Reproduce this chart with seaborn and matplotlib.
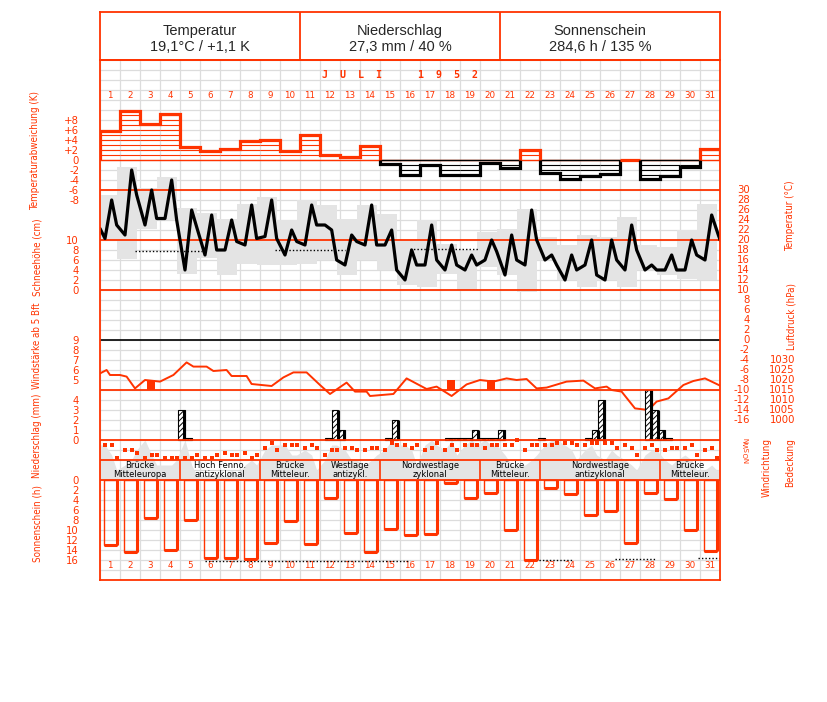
import numpy as np
import matplotlib
matplotlib.use("Agg")
import matplotlib.pyplot as plt
import seaborn as sns

sns.set_theme(style="white")
plt.rcParams["font.family"] = ["DejaVu Sans"]
plt.rcParams["hatch.linewidth"] = 0.7
plt.rcParams["hatch.color"] = "black"

ROT = "#ff3300"
GRAU = "#e4e4e4"
GITTER = "#dcdcdc"

# ---------------- Daten Juli 1952 ----------------
tage = list(range(1, 32))
termin_stunden = [6, 14, 20]

kopf_titel = ["Temperatur", "Niederschlag", "Sonnenschein"]
kopf_werte = ["19,1°C / +1,1 K", "27,3 mm / 40 %", "284,6 h / 135 %"]

# Abweichung des Tagesmittels (K)
abweichung = [5.9, 9.8, 7.3, 9.3, 2.7, 1.8, 2.3, 3.8, 4.0, 1.8, 5.0, 1.1, 0.7, 2.9, -0.7, -3.0,
              -0.9, -3.0, -3.0, -0.5, -1.5, 2.1, -2.5, -3.8, -3.1, -2.7, 0.1, -3.8, -3.1, -1.3, 2.2]

# Temperatur (°C) zu den Terminen
temp_fruh = [20.3, 21, 23, 24.3, 14, 17, 18, 19, 20.7, 17, 19, 23, 15, 19, 19, 12,
             15, 14, 14, 16, 13, 15, 16, 12, 15, 12, 14, 14, 14, 14, 16]
temp_mittag = [28, 34, 30, 32, 26, 25, 24, 27, 28, 22, 27, 22, 21, 27, 22, 18,
               23, 19, 17, 20, 21, 26, 17, 17, 20, 20, 23, 15, 17, 20, 25]
temp_abend = [23, 29, 24.3, 24, 22.6, 18, 19.7, 20.3, 20.3, 19.7, 23, 16, 19.7, 19, 14, 15,
              16, 15, 15, 17.7, 16, 20, 15, 14, 13, 16, 18, 14, 14, 17, 22]
temp_anfang = 22.3
temp_ende = 20.0

# Tagesminimum / -maximum (graue Felder)
temp_min = [20, 16.3, 22.3, 24, 13.3, 16.5, 13, 15.3, 15, 15, 15.3, 16, 13, 16, 14, 11,
            10.7, 13.3, 10, 14.7, 13, 9.7, 16, 12, 10.7, 12, 10.7, 14, 13, 12.3, 12]
temp_max = [29, 34.7, 30.5, 32.7, 26.5, 25.5, 24.3, 27.3, 28.7, 24, 28, 27, 24.3, 27, 25.3, 20,
            24, 19.3, 18, 21.7, 22.3, 26.3, 20.7, 19, 21, 20.7, 24.7, 19, 18.7, 22, 27.3]

# gepunktete Mittelwerte (Zeit in Tagen ab 1. Juli 0 Uhr)
temp_punkt_von = [1.75, 8.75, 15.5]
temp_punkt_bis = [5.1, 12.25, 18.9]
temp_punkt_wert = [17.8, 18.0, 18.3]

# Luftdruck (hPa)
druck_zeit = [0.0, 0.33, 0.5, 1.0, 1.33, 1.75, 2.25, 3.0, 3.67, 4.33, 4.67, 5.33, 5.67, 6.33,
              6.58, 7.33, 7.58, 8.58, 9.17, 9.67, 10.33, 11.0, 11.5, 12.33, 12.75, 13.33, 13.5,
              14.67, 15.33, 16.33, 16.83, 17.58, 18.33, 19.0, 19.67, 20.33, 20.83, 21.33, 21.83,
              22.33, 23.33, 24.17, 24.75, 25.33, 25.58, 26.08, 26.75, 27.42, 27.83, 28.42,
              29.17, 29.67, 30.25, 31.0]
druck_hpa = [1023.3, 1025, 1022.5, 1022.5, 1021.7, 1015.8, 1020, 1019.2, 1022.5, 1028.8, 1026.7,
             1026.7, 1024.5, 1025, 1022, 1022, 1018, 1017, 1021.3, 1023.8, 1023.8, 1017.5, 1013,
             1018.7, 1014.2, 1014.2, 1012, 1013, 1020.8, 1015.5, 1016.7, 1012, 1017.8, 1020,
             1019.2, 1020.8, 1020, 1020.5, 1015.8, 1016.2, 1019.2, 1019.7, 1015.8, 1016.7, 1015,
             1014.2, 1005.8, 1005, 1009.2, 1010.8, 1017.5, 1019.5, 1020.8, 1017.2]

# Windstärke ab 5 Bft
wind_tage = [3, 18, 20]
wind_bft = [5, 5, 5]

# Niederschlag (mm) in den drei Terminabschnitten
niederschlag = [[0, 0, 0] for _ in tage]
niederschlag[3] = [0, 0, 3.0]
niederschlag[4] = [0.2, 0, 0]
niederschlag[11] = [0.2, 3.0, 1.0]
niederschlag[14] = [0.2, 2.0, 0]
niederschlag[17] = [0.2, 0.2, 0.2]
niederschlag[18] = [0.2, 1.0, 0.2]
niederschlag[19] = [0.2, 0.2, 1.0]
niederschlag[21] = [0, 0, 0.2]
niederschlag[24] = [0.2, 1.0, 4.0]
niederschlag[27] = [5.0, 3.0, 1.0]
niederschlag[28] = [0.2, 0, 0]

# Windrichtung (Grad) zu den Terminen
windrichtung = [[270, 270, 45], [180, 180, 135], [45, 90, 90], [45, 45, 45], [45, 45, 90],
                [45, 45, 90], [135, 90, 90], [135, 45, 90], [225, 315, 180], [270, 270, 270],
                [225, 270, 225], [90, 180, 180], [225, 225, 180], [180, 225, 225], [180, 315, 270],
                [270, 225, 270], [180, 225, 315], [180, 270, 180], [270, 270, 270], [225, 270, 270],
                [270, 270, 360], [180, 270, 270], [270, 270, 315], [315, 315, 270], [270, 315, 315],
                [315, 315, 225], [270, 225, 90], [225, 270, 180], [180, 225, 225], [225, 270, 90],
                [180, 225, 45]]

# Bedeckung (Achtel) zu den Terminen
bedeckung = [[7, 5, 2], [3, 4, 6], [8, 5, 3], [3, 3, 4], [8, 3, 1], [1, 1, 1], [1, 2, 1],
             [3, 4, 3], [6, 7, 7], [7, 5, 5], [6, 5, 2], [4, 7, 7], [6, 4, 4], [3, 4, 5],
             [6, 8, 7], [7, 6, 3], [7, 8, 7], [6, 8, 5], [7, 8, 7], [8, 7, 7], [5, 3, 3],
             [3, 4, 5], [7, 8, 8], [7, 6, 4], [6, 7, 5], [4, 6, 5], [4, 3, 2], [5, 6, 6],
             [4, 3, 4], [5, 4, 2], [2, 3, 2]]

# Großwetterlagen
lagen = ["Brücke\nMitteleuropa", "Hoch Fenno.\nantizyklonal", "Brücke\nMitteleur.",
         "Westlage\nantizykl.", "Nordwestlage\nzyklonal", "Brücke\nMitteleur.",
         "Nordwestlage\nantizyklonal", "Brücke\nMitteleur."]
lagen_beginn = [1, 5, 9, 12, 15, 20, 23, 29]

# Sonnenscheindauer (h)
sonne = [13.0, 14.3, 7.5, 13.9, 7.9, 15.5, 15.5, 15.7, 12.5, 8.1, 12.7, 3.5, 10.5, 14.3, 9.7, 11.0,
         10.7, 0.5, 3.5, 2.5, 9.9, 15.9, 1.5, 2.7, 7.0, 6.2, 12.5, 2.5, 3.8, 9.9, 14.1]
sonne_punkt_von = [5.25, 21.6, 25.75, 29.9]
sonne_punkt_bis = [15.5, 23.6, 27.8, 31.0]
sonne_punkt_wert = [16.2, 15.9, 15.8, 15.6]

# ---------------- Aufbau ----------------
W, H = 827, 702
fig = plt.figure(figsize=(W / 100, H / 100), dpi=100)
fig.patch.set_facecolor("white")
OBEN, UNTEN, LINKS, RECHTS = 60, 580, 100, 720


def feld(x0, y0, x1, y1):
    return [x0 / W, 1 - y1 / H, (x1 - x0) / W, (y1 - y0) / H]


def ebene(y_px, wert, px_je_einheit):
    ax = fig.add_axes(feld(LINKS, OBEN, RECHTS, UNTEN))
    ax.patch.set_visible(False)
    ax.set_xlim(0, 31)
    ax.set_ylim(wert - (UNTEN - y_px) / px_je_einheit, wert + (y_px - OBEN) / px_je_einheit)
    for s in ax.spines.values():
        s.set_visible(False)
    ax.set_xticks([])
    ax.set_yticks([])
    ax.grid(False)
    return ax


def skala_links(ax, werte, texte, pad_px=21):
    ax.set_yticks(werte)
    ax.set_yticklabels(texte)
    ax.tick_params(axis="y", left=True, labelleft=True, length=0, pad=pad_px * 0.72,
                   labelcolor=ROT, labelsize=7.3)


def skala_rechts(ax, werte, texte, pad_px, ha="right", rot=0, groesse=7.3):
    ax.yaxis.tick_right()
    ax.set_yticks(werte)
    ax.set_yticklabels(texte, rotation=rot)
    ax.tick_params(axis="y", right=True, labelright=True, left=False, labelleft=False,
                   length=0, pad=pad_px * 0.72, labelcolor=ROT, labelsize=groesse)
    for t in ax.get_yticklabels():
        t.set_horizontalalignment(ha)
        t.set_verticalalignment("center")


zeit_termin = (np.arange(31)[:, None] + np.array(termin_stunden)[None, :] / 24).ravel()

# Gitter
basis = fig.add_axes(feld(LINKS, OBEN, RECHTS, UNTEN))
basis.set_xlim(0, 31)
basis.set_ylim(52, 0)
basis.set_xticks(range(32))
basis.set_yticks(range(53))
basis.grid(True, color=GITTER, lw=0.9)
basis.tick_params(length=0, labelbottom=False, labelleft=False)
for s in basis.spines.values():
    s.set_visible(False)

basis.text(15.0, 1.5, "J  U  L  I      1  9  5  2", color=ROT, ha="center", va="center",
           fontsize=7.2, fontweight="bold", family="DejaVu Sans Mono")
for d in tage:
    basis.text(d - 0.5, 3.5, str(d), color=ROT, ha="center", va="center", fontsize=6.3)
    basis.text(d - 0.5, 50.5, str(d), color=ROT, ha="center", va="center", fontsize=6.3)

# Kopf
kopf = fig.add_axes(feld(LINKS, 12, RECHTS, OBEN))
kopf.set_xlim(0, 3.1)
kopf.set_ylim(0, 1)
kopf.set_xticks([])
kopf.set_yticks([])
kopf.patch.set_visible(False)
for s in kopf.spines.values():
    s.set_color(ROT)
    s.set_linewidth(1.3)
for i in (1, 2):
    kopf.axvline(i, color=ROT, lw=1.3)
for i, (t, w) in enumerate(zip(kopf_titel, kopf_werte)):
    kopf.text(i + 0.5, 0.6, t, ha="center", va="center", fontsize=10.5, family="Liberation Sans")
    kopf.text(i + 0.5, 0.27, w, ha="center", va="center", fontsize=10.5, family="Liberation Sans")

# Bedeckung und Großwetterlagen
ax_bed = ebene(480, 0, 5)
bed = np.array(bedeckung, float).ravel()
bx = np.r_[0, zeit_termin, 31]
by = np.r_[bed[0], bed, bed[-1]]
ax_bed.fill_between(bx, 0, by, color=GRAU, lw=0, zorder=1)
ax_bed.axhline(0, color=ROT, lw=1.3, zorder=3)
ax_bed.axhline(4, color=ROT, lw=1.3, zorder=3)
grenzen = [b - 1 for b in lagen_beginn] + [31]
ax_bed.vlines(grenzen[1:-1], 0, 4, color=ROT, lw=1.2, zorder=3)
for name, a, b in zip(lagen, grenzen[:-1], grenzen[1:]):
    ax_bed.text((a + b) / 2, 2, name, ha="center", va="center", fontsize=6, linespacing=1.0,
                color="black", zorder=4)

# Temperatur
ax_t = ebene(290, 10, 5)
ax_t.bar(np.arange(31) + (termin_stunden[2] - 24) / 24, np.array(temp_max) - np.array(temp_min),
         bottom=temp_min, width=1, align="edge", color=GRAU, lw=0, zorder=1)
tx = np.r_[0, zeit_termin, 31]
ty = np.r_[temp_anfang, np.column_stack([temp_fruh, temp_mittag, temp_abend]).ravel(), temp_ende]
sns.lineplot(x=tx, y=ty, ax=ax_t, color="black", linewidth=2.3, legend=False, zorder=5)
ax_t.hlines(temp_punkt_wert, temp_punkt_von, temp_punkt_bis, color="black", lw=1,
            linestyles=(0, (1, 1.5)), zorder=4)
for w in (30, 20, 10):
    ax_t.axhline(w, color=ROT, lw=1.3, zorder=3)
ax_t.axhline(0, color="black", lw=1.2, zorder=3)
ax_t.set_xlim(0, 31)
ax_t.set_ylim(10 - (UNTEN - 290) / 5, 10 + (290 - OBEN) / 5)
t_ticks = list(range(30, -17, -2))
skala_rechts(ax_t, t_ticks, [str(v) for v in t_ticks], 30)
ax_t.set_xlabel("")
ax_t.set_ylabel("")

# Temperaturabweichung
ax_a = ebene(160, 0, 5)
abw = np.array(abweichung)
vz = np.sign(abw)
start = 0
for i in range(1, 32):
    if i == 31 or vz[i] != vz[start]:
        farbe = ROT if vz[start] > 0 else "black"
        ax_a.stairs(abw[start:i], np.arange(start, i + 1), baseline=0, color=farbe, lw=2.3, zorder=5)
        if vz[start] < 0:
            ax_a.hlines(0, start, i, color="black", lw=1.0, zorder=4)
        start = i
for d, a in enumerate(abw):
    stufen = np.arange(1, np.ceil(abs(a)))
    if len(stufen):
        ax_a.hlines(np.sign(a) * stufen, d, d + 1, color=ROT if a > 0 else "black", lw=0.8, zorder=4)
ax_a.axhline(0, color=ROT, lw=1.0, zorder=3)
a_ticks = list(range(8, -9, -2))
skala_links(ax_a, a_ticks, [("+" if v > 0 else "") + str(v) for v in a_ticks])

# Schneehöhe (nur Skala)
ax_s = ebene(290, 0, 5)
skala_links(ax_s, list(range(10, -1, -2)), [str(v) for v in range(10, -1, -2)])

# Luftdruck
ax_p = ebene(390, 1015, 2)
sns.lineplot(x=druck_zeit, y=druck_hpa, ax=ax_p, color=ROT, linewidth=1.4, legend=False, zorder=4)
ax_p.set_xlim(0, 31)
ax_p.set_ylim(1015 - (UNTEN - 390) / 2, 1015 + (390 - OBEN) / 2)
p_ticks = list(range(1030, 999, -5))
skala_rechts(ax_p, p_ticks, [str(v) for v in p_ticks], 75)
ax_p.set_xlabel("")
ax_p.set_ylabel("")

# Windstärke
ax_w = ebene(380, 5, 10)
ax_w.bar(np.array(wind_tage) - 1 + 0.335, np.array(wind_bft) - 4, bottom=4, width=0.415,
         align="edge", color=ROT, lw=0, zorder=4)
skala_links(ax_w, [9, 8, 7, 6, 5], ["9", "8", "7", "6", "5"])

# Niederschlag
ax_n = ebene(440, 0, 10)
n_links = (np.arange(31)[:, None] + 0.25 + np.arange(3)[None, :] / 3).ravel()
n_wert = np.array(niederschlag, float).ravel()
m = n_wert > 0
ax_n.bar(n_links[m], n_wert[m], width=1 / 3, align="edge", facecolor="white", edgecolor="black",
         hatch="//////", lw=0.8, zorder=4)
ax_n.vlines(n_links[m] + 1 / 3 - 0.04, 0, n_wert[m], color="black", lw=2.2, zorder=5)
ax_n.axhline(0, color=ROT, lw=1.3, zorder=6)
ax_n.axhline(5, color=ROT, lw=1.3, zorder=6)
skala_links(ax_n, [4, 3, 2, 1, 0], ["4", "3", "2", "1", "0"])

# Windrichtung
ax_r = ebene(460, 0, 1 / 18)
sns.scatterplot(x=zeit_termin, y=np.array(windrichtung, float).ravel(), ax=ax_r, marker="s",
                s=7, color=ROT, linewidth=0, legend=False, zorder=5)
ax_r.set_xlim(0, 31)
ax_r.set_ylim(0 - (UNTEN - 460) * 18, (460 - OBEN) * 18)
skala_rechts(ax_r, [0, 90, 180, 270, 360], ["N", "O", "S", "W", "N"], 27, ha="center", rot=90,
             groesse=5)
ax_r.set_xlabel("")
ax_r.set_ylabel("")

# Sonnenschein
ax_so = ebene(480, 0, -5)
s_links = np.arange(31) + 0.2
ax_so.bar(s_links, sonne, width=0.63, align="edge", fill=False, edgecolor=ROT, lw=1.0, zorder=4)
ax_so.vlines(s_links + 0.63, 0, sonne, color=ROT, lw=2.2, zorder=5)
ax_so.hlines(sonne, s_links, s_links + 0.63, color=ROT, lw=2.2, zorder=5)
ax_so.hlines(sonne_punkt_wert, sonne_punkt_von, sonne_punkt_bis, color="black", lw=1,
             linestyles=(0, (1, 1.5)), zorder=4)
s_ticks = list(range(0, 17, 2))
skala_links(ax_so, s_ticks, [str(v) for v in s_ticks])

# Rahmen
rahmen = fig.add_axes(feld(LINKS, OBEN, RECHTS, UNTEN))
rahmen.patch.set_visible(False)
rahmen.set_xticks([])
rahmen.set_yticks([])
for s in rahmen.spines.values():
    s.set_color(ROT)
    s.set_linewidth(1.3)

# Achsentitel
titel_stil = dict(rotation=90, color=ROT, fontsize=7, family="DejaVu Sans",
                  fontstretch="condensed")
for text, x, y in [("Temperaturabweichung (K)", 35, 151), ("Schneehöhe (cm)", 37, 257),
                   ("Windstärke ab 5 Bft", 37, 346), ("Niederschlag (mm)", 37, 436),
                   ("Sonnenschein (h)", 37, 523), ("Temperatur (°C)", 790, 216),
                   ("Luftdruck (hPa)", 791, 316)]:
    fig.text(x / W, 1 - y / H, text, ha="center", va="center", **titel_stil)
for text, x in [("Windrichtung", 767), ("Bedeckung", 790)]:
    fig.text(x / W, 1 - 438 / H, text, ha="center", va="top", **titel_stil)

fig.savefig("out.png", dpi=100, facecolor="white")
